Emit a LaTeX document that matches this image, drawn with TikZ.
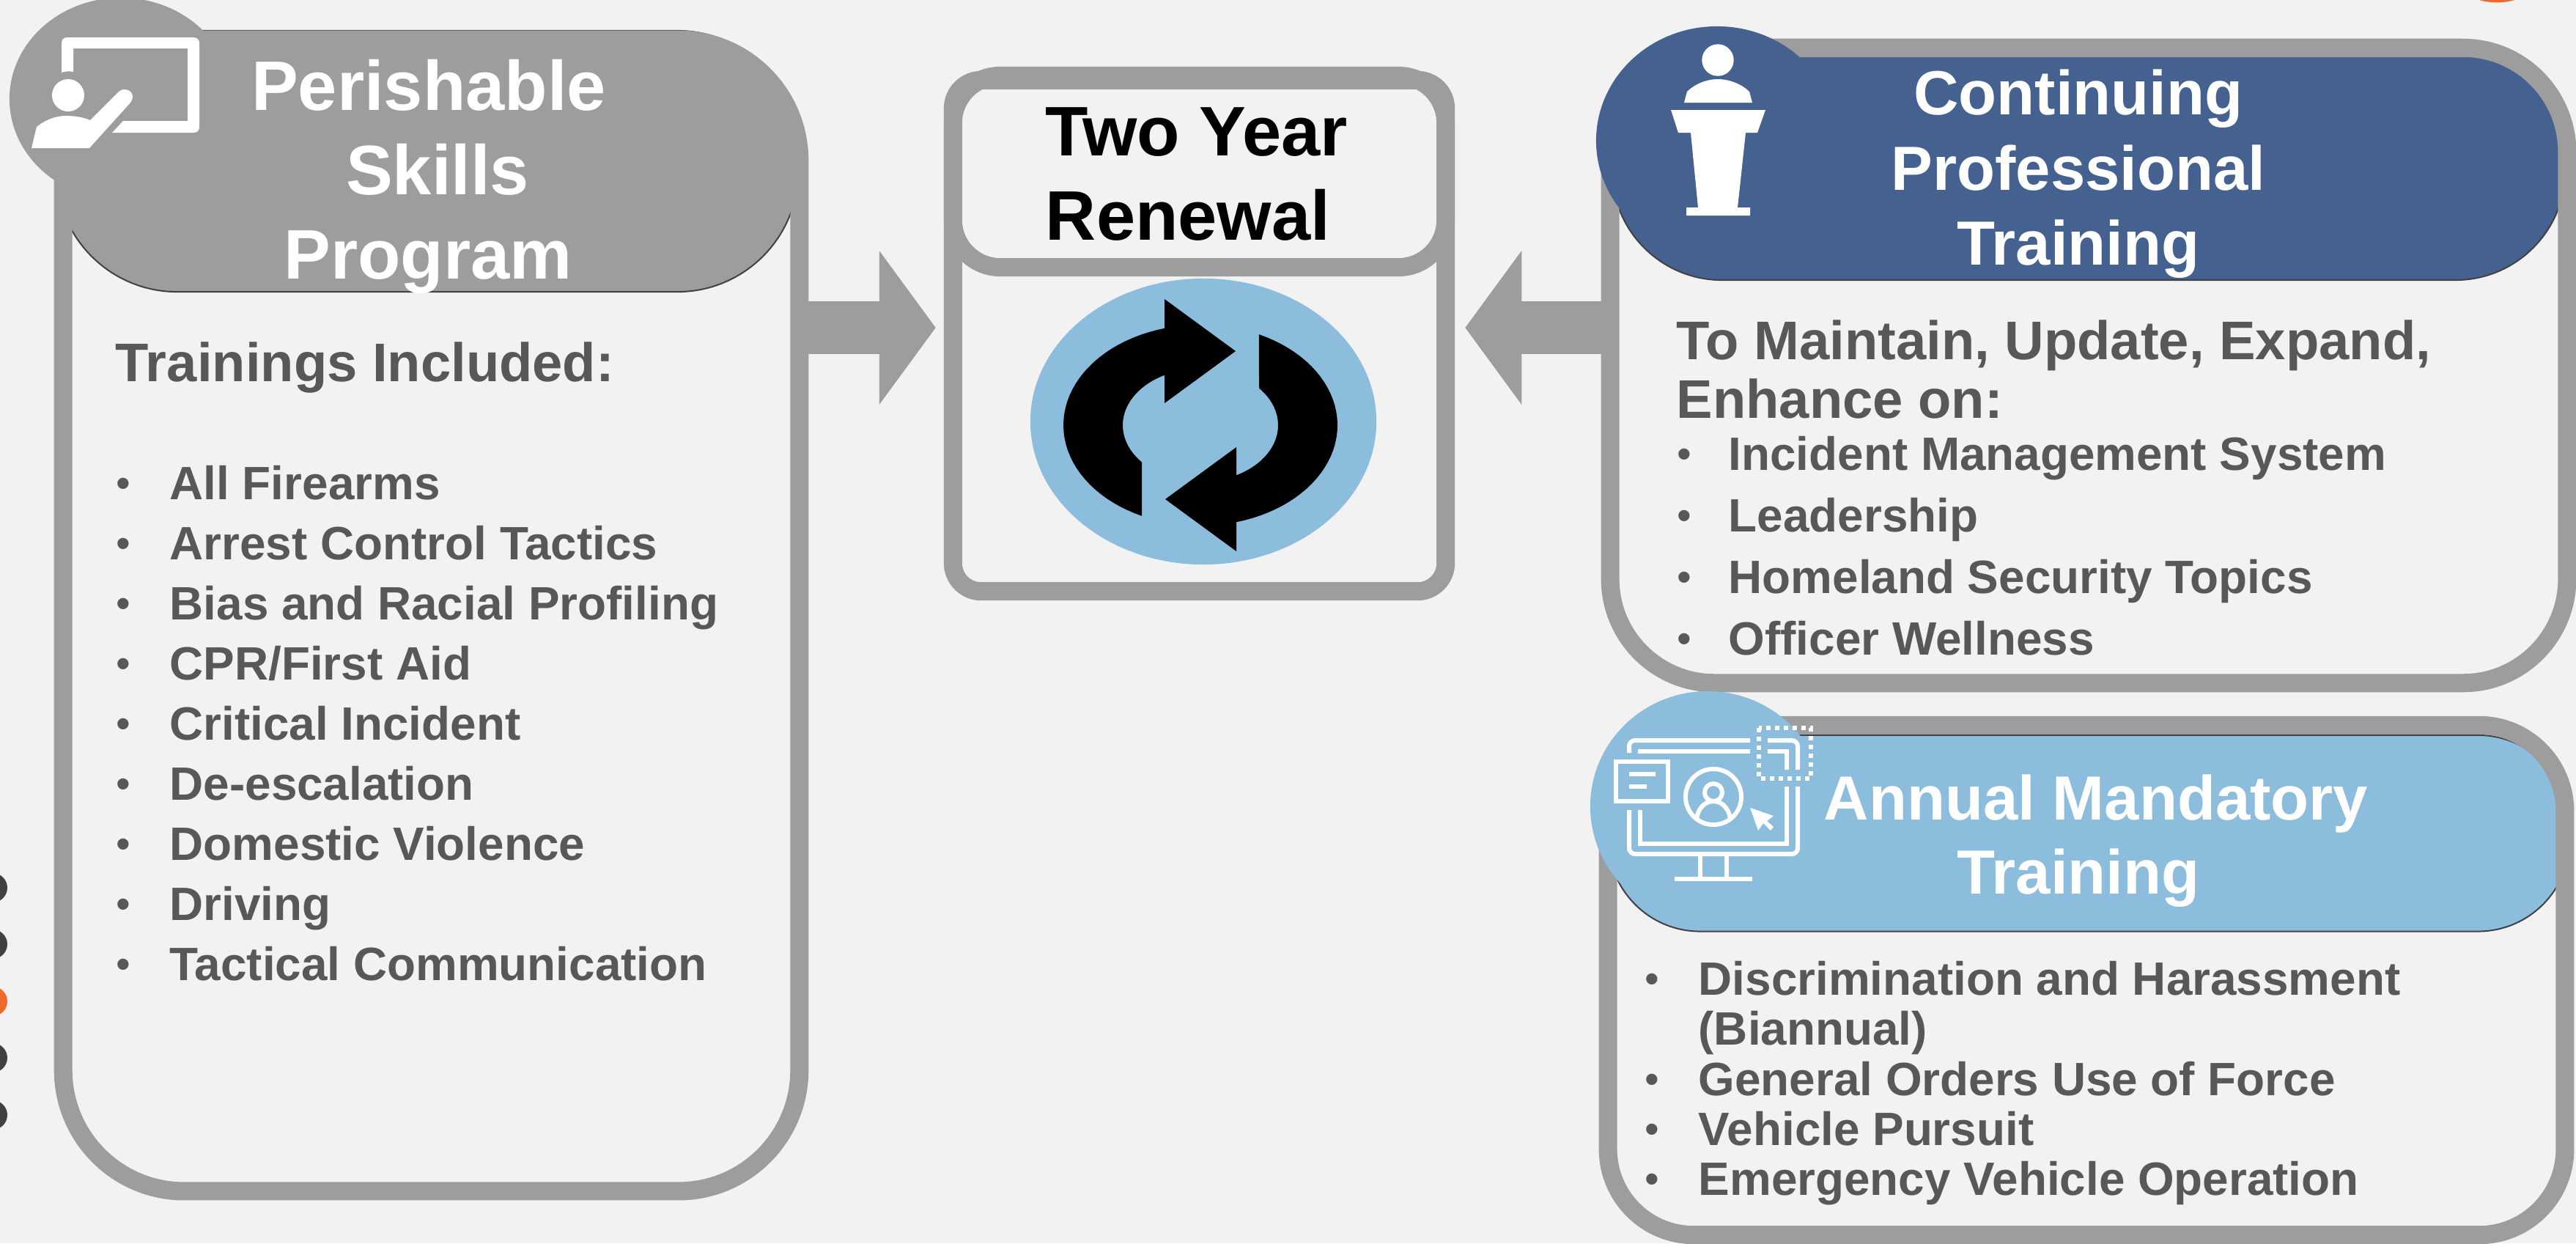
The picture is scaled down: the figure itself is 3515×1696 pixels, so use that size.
\documentclass[tikz,border=0pt]{standalone}
\usepackage{fontspec}
\setmainfont{Liberation Sans}
\usetikzlibrary{arrows.meta,calc}
\definecolor{bgc}{HTML}{F2F2F2}
\definecolor{gr}{HTML}{9D9D9D}
\definecolor{navy}{HTML}{44618F}
\definecolor{sky}{HTML}{8DBDDD}
\definecolor{txtc}{HTML}{58585B}
\definecolor{darkdot}{HTML}{414042}
\definecolor{orng}{HTML}{EE6A2C}
\newcommand\fH{\fontsize{27.2}{32}\selectfont\bfseries}
\newcommand\fM{\fontsize{24.2}{28}\selectfont\bfseries}
\newcommand\fS{\fontsize{21.1}{25}\selectfont\bfseries}
\newcommand\fL{\fontsize{18.15}{22}\selectfont\bfseries}
\newcommand\fB{\fontsize{16}{19}\selectfont}
\tikzset{
  boxframe/.style={draw=gr,line width=.25cm,inner sep=0pt,outer sep=0pt},
  hdr/.style={draw=darkdot,line width=.02cm,inner sep=0pt,outer sep=0pt,rounded corners=#1},
  ttl/.style={inner sep=0pt,anchor=base,text=white},
  item/.style={inner sep=0pt,anchor=base west,text=txtc,font=\fL},
  bul/.style={inner sep=0pt,anchor=base,text=txtc,font=\fB,yshift=.025cm},
  conn/.style={draw=gr,line width=.71cm,-{Triangle[length=.77cm,width=2.06cm]}},
  iconl/.style={draw=white,line width=.06cm,fill=none}
}
\begin{document}
\begin{tikzpicture}[x=.01cm,y=-.01cm]
\path[use as bounding box,clip] (0,0) rectangle (3515,1696);
\fill[bgc] (0,0) rectangle (3515,1696);
% edge dots
\foreach \yy/\cc in {1211/darkdot,1288/darkdot,1366/orng,1443/darkdot,1521/darkdot}
  \fill[\cc] (-10,\yy) circle[radius=.2cm];
\fill[orng] (3407,-85.7) circle[radius=.89cm];
% Perishable
\node[hdr=1.65cm,fill=gr,minimum width=10.12cm,minimum height=3.56cm] (perishhead) at (583,220) {};
\node[boxframe,rounded corners=1.65cm,minimum width=10.04cm,minimum height=15.7cm] (perish) at (588.5,839.5) {};
\fill[gr] (165,135) ellipse[x radius=1.52cm,y radius=1.38cm];
% teaching icon
\fill[white] (84,98) -- (84,59) .. controls (84,54) and (87,51) .. (92,51) -- (264,51) .. controls (269,51) and (272,54) .. (272,59) -- (272,173) .. controls (272,178) and (269,181) .. (264,181) -- (153,181) -- (168,165) -- (256,165) -- (256,66) -- (100,66) -- (100,98) .. controls (95,97) and (89,97) .. (84,99) -- cycle;
\fill[white] (93,130) circle[radius=.22cm];
\fill[white] (43,202) -- (50,173) .. controls (60,165) and (74,158) .. (90,158) .. controls (102,158) and (114,160) .. (123,164) -- (162,125) .. controls (166,121) and (174,121) .. (178,125) .. controls (182,129) and (182,135) .. (178,140) -- (122,202) -- cycle;
\node[ttl,font=\fH] (t1a) at (585,150) {Perishable};
\node[ttl,font=\fH] (t1b) at (597,265) {Skills};
\node[ttl,font=\fH] (t1c) at (584,380) {Program};
\node[item,font=\fS] (incl) at (157,520) {Trainings Included:};
\foreach \yy/\tt [count=\i] in {681/All Firearms,763/Arrest Control Tactics,845/Bias and Racial Profiling,927/{CPR/First Aid},1009/Critical Incident,1091/De-escalation,1173/Domestic Violence,1255/Driving,1337/Tactical Communication}{
  \node[bul] (pb\i) at (168,\yy) {•};
  \node[item] (pi\i) at (231,\yy) {\tt};
}
% Two year renewal
\node[boxframe,rounded corners=.385cm,minimum width=6.72cm,minimum height=6.97cm] (renew) at (1636.5,458) {};
\node[boxframe,rounded corners=.645cm,minimum width=6.72cm,minimum height=2.61cm] (renewhead) at (1636.5,234) {};
\node[ttl,text=black,font=\fH] (t2a) at (1632.5,212) {Two Year};
\node[ttl,text=black,font=\fH] (t2b) at (1621,327) {Renewal};
\fill[sky] (1642,575) ellipse[x radius=2.36cm,y radius=1.95cm];
\foreach \a in {0,180}
  \fill[black,rotate around={\a:(1638,580)}] (1589,448) -- (1589,408) -- (1686,479) -- (1589,550) -- (1589,512)
    -- plot[domain=242.5:139,samples=30] ({1638+106*cos(\x)},{580+77*sin(\x)})
    -- plot[domain=115.3:254.8,samples=40] ({1638+187*cos(\x)},{580+137*sin(\x)}) -- cycle;
% Continuing
\node[hdr=1.5cm,fill=navy,minimum width=13cm,minimum height=3.22cm] (conthead) at (2850,221) {};
\node[boxframe,rounded corners=1.42cm,minimum width=13.05cm,minimum height=8.66cm] (cont) at (2850,498.5) {};
\fill[navy] (2343,192) ellipse[x radius=1.65cm,y radius=1.56cm];
% podium icon
\fill[white] (2344,82) circle[radius=.217cm];
\fill[white] (2298,140) -- (2302,125) .. controls (2312,115) and (2328,108) .. (2344,108) .. controls (2360,108) and (2377,115) .. (2387,125) -- (2391,140) -- cycle;
\fill[white] (2280,150) -- (2409,150) -- (2398,181) -- (2382,181) -- (2371,283) -- (2388,283) -- (2388,294) -- (2301,294) -- (2301,283) -- (2317,283) -- (2307,181) -- (2290,181) -- cycle;
\node[ttl,font=\fM] (t3a) at (2836,156) {Continuing};
\node[ttl,font=\fM] (t3b) at (2836,259) {Professional};
\node[ttl,font=\fM] (t3c) at (2836,361) {Training};
\node[item,font=\fS] (c1) at (2287,490) {To Maintain, Update, Expand,};
\node[item,font=\fS] (c2) at (2287,570) {Enhance on:};
\foreach \yy/\tt [count=\i] in {641/Incident Management System,725/Leadership,809/Homeland Security Topics,893/Officer Wellness}{
  \node[bul] (cb\i) at (2298,\yy) {•};
  \node[item] (ci\i) at (2358,\yy) {\tt};
}
% Annual
\node[hdr=1.25cm,fill=sky,minimum width=13.11cm,minimum height=2.675cm] (annhead) at (2850.5,1136.7) {};
\node[boxframe,rounded corners=1.17cm,minimum width=13.05cm,minimum height=6.95cm] (ann) at (2847,1337) {};
\fill[sky] (2330,1100) ellipse[x radius=1.6cm,y radius=1.57cm];
% monitor icon
\draw[iconl,rounded corners=.08cm] (2223,1027) -- (2223,1010) -- (2388,1010);
\draw[iconl] (2235,1025) -- (2388,1025);
\draw[iconl,rounded corners=.08cm] (2223,1105) -- (2223,1165) -- (2453,1165) -- (2453,1073);
\draw[iconl] (2238,1105) -- (2238,1151) -- (2438,1151) -- (2438,1073);
\draw[iconl,rounded corners=.08cm] (2412,1010) -- (2453,1010) -- (2453,1050);
\draw[iconl] (2412,1025) -- (2438,1025) -- (2438,1050);
\draw[iconl] (2205,1039) rectangle (2276,1093);
\draw[iconl] (2223,1056) -- (2259,1056);
\draw[iconl] (2223,1073) -- (2247,1073);
\draw[iconl] (2338,1087) circle[radius=.38cm];
\draw[iconl] (2338,1081) circle[radius=.12cm];
\draw[iconl] (2315,1117) .. controls (2317,1103) and (2326,1093) .. (2338,1093) .. controls (2350,1093) and (2359,1103) .. (2361,1117);
\fill[white] (2388,1102) -- (2420,1113) -- (2411,1120) -- (2420,1128) -- (2416,1133) -- (2406,1123) -- (2399,1133) -- cycle;
\draw[iconl] (2320,1167) -- (2320,1197) (2356,1167) -- (2356,1197);
\draw[iconl] (2285,1199) -- (2391,1199);
\draw[iconl,dash pattern=on .06cm off .06cm] (2400,993) rectangle (2471,1062);
\node[ttl,font=\fM] (t4a) at (2860,1118) {Annual Mandatory};
\node[ttl,font=\fM] (t4b) at (2836,1219.5) {Training};
\node[bul] (ab1) at (2254,1357) {•};
\node[item] (ai1) at (2317,1357) {Discrimination and Harassment};
\node[item] (ai1b) at (2317,1425) {(Biannual)};
\node[bul] (ab2) at (2254,1494) {•};
\node[item] (ai2) at (2317,1494) {General Orders Use of Force};
\node[bul] (ab3) at (2254,1562) {•};
\node[item] (ai3) at (2317,1562) {Vehicle Pursuit};
\node[bul] (ab4) at (2254,1630) {•};
\node[item] (ai4) at (2317,1630) {Emergency Vehicle Operation};
% connectors
\coordinate (lvl) at (0,447);
\draw[conn,shorten >=.235cm] (perish.east |- lvl) -- (renew.west |- lvl);
\draw[conn,shorten >=.265cm] (cont.west |- lvl) -- (renew.east |- lvl);
\end{tikzpicture}
\end{document}
